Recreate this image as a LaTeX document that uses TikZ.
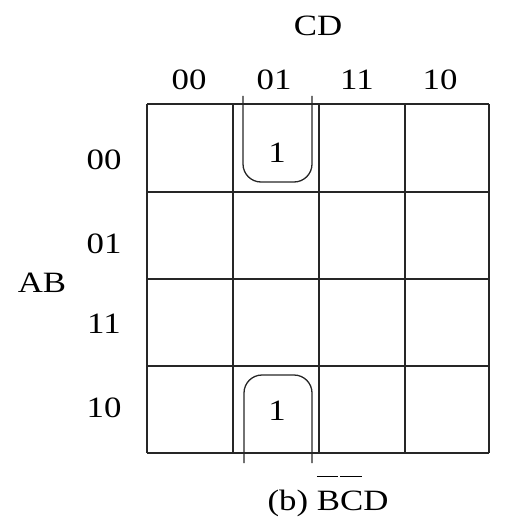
\documentclass[tikz,border=0pt]{standalone}
\usepackage{graphicx}
\usepackage{fontspec}
\setmainfont{Liberation Serif}
\newcommand\stx[1]{\scalebox{1.18}[1]{#1}}
\begin{document}
\begin{tikzpicture}[x=1pt,y=-1pt,
  lbl/.style={font=\fontsize{29.5}{32}\selectfont, inner sep=0pt, text=black},
  gridline/.style={line width=1.6pt, black!85},
  loopline/.style={line width=1.3pt, black!85, rounded corners=18pt}]
\useasboundingbox (0,0) rectangle (510,518);
% grid
\foreach \x in {147,233,319,405,489}
  \draw[gridline] (\x,104) -- (\x,453);
\foreach \y in {104,192,279,366,453}
  \draw[gridline] (147,\y) -- (489,\y);
% labels
\node[lbl] (cd) at (318,26) {\stx{CD}};
\node[lbl] (c00) at (189,80) {\stx{00}};
\node[lbl] (c01) at (274,80) {\stx{01}};
\node[lbl] (c11) at (357,80) {\stx{11}};
\node[lbl] (c10) at (440,80) {\stx{10}};
\node[lbl] (r00) at (104,160) {\stx{00}};
\node[lbl] (r01) at (104,244) {\stx{01}};
\node[lbl] (ab) at (42,283) {\stx{AB}};
\node[lbl] (r11) at (104,324) {\stx{11}};
\node[lbl] (r10) at (104,408) {\stx{10}};
% ones
\node[lbl] (one1) at (277,153) {\stx{1}};
\node[lbl] (one2) at (277,411) {\stx{1}};
% loops
\draw[loopline] (243,96) -- (243,182) -- (312,182) -- (312,96);
\draw[loopline] (244,463) -- (244,375) -- (312,375) -- (312,463);
% caption
\node[lbl, anchor=base] (cap) at (328,510) {\stx{(b) $\overline{\mbox{B\kern-1.5pt}\rule{0pt}{1.1em}}\kern1.5pt\overline{\mbox{C\kern-1.5pt}\rule{0pt}{1.1em}}\kern1.5pt$D}};
\end{tikzpicture}
\end{document}
